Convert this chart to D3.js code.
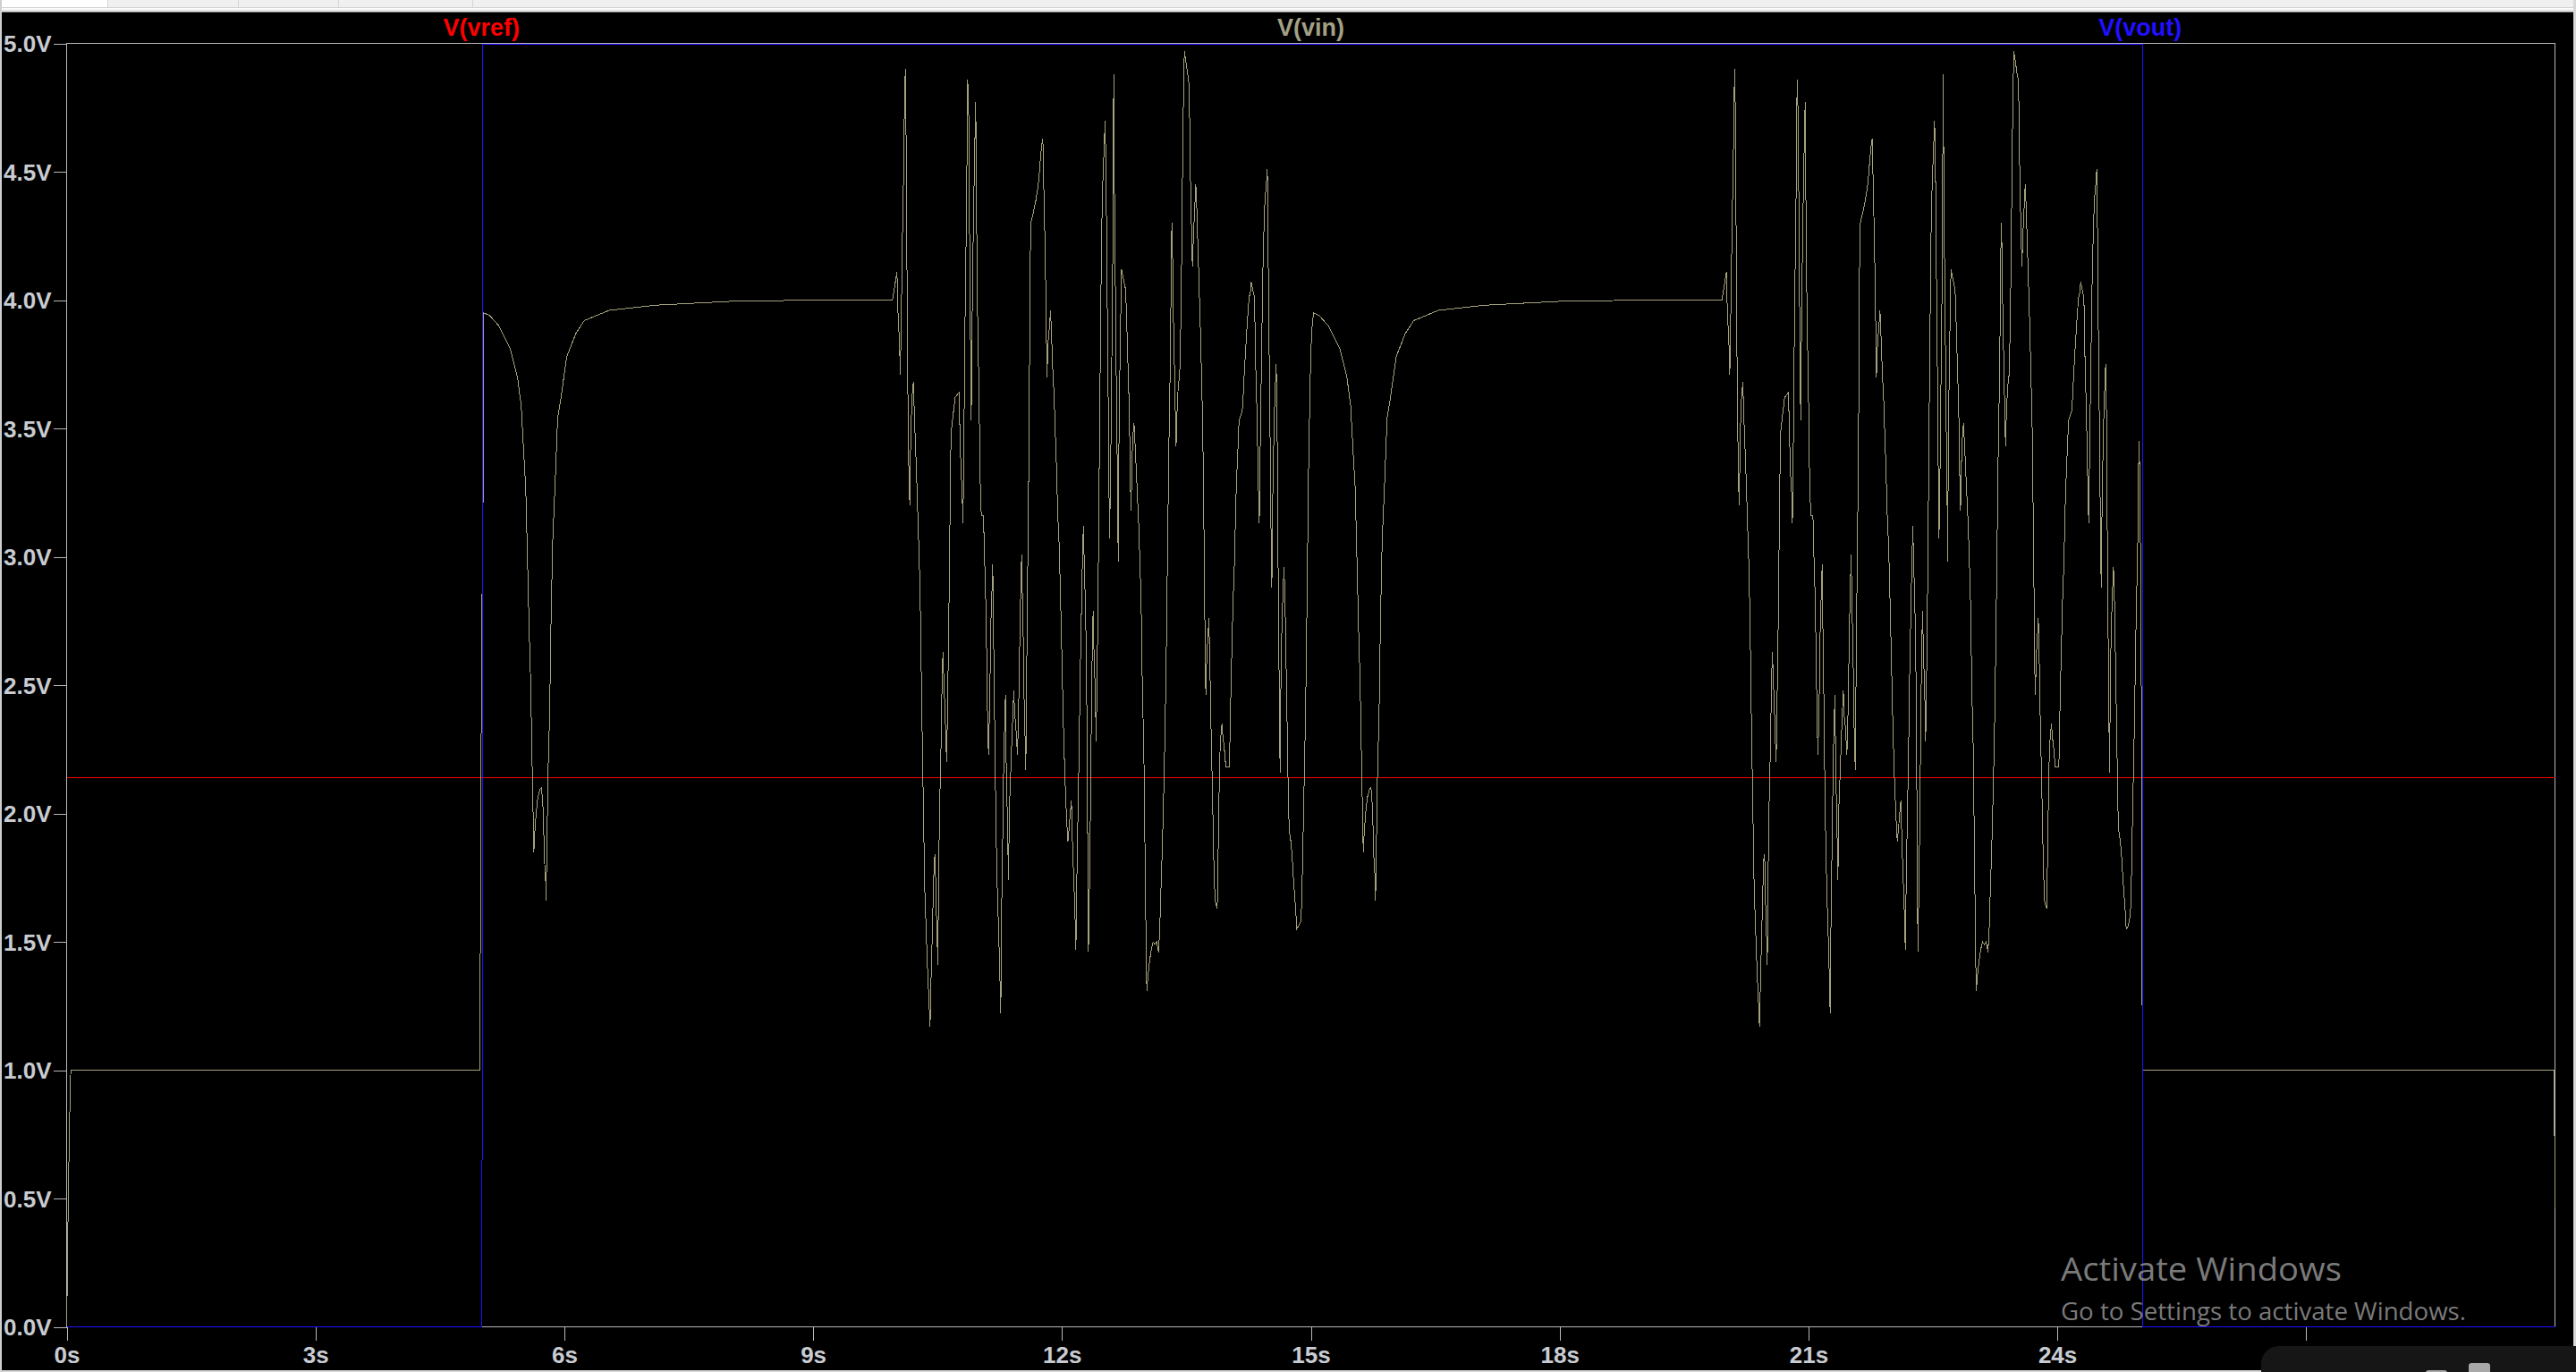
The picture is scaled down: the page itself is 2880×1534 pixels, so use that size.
<!DOCTYPE html>
<html><head><meta charset="utf-8">
<script src="https://cdn.jsdelivr.net/npm/d3@7"></script>
<style>
html,body{margin:0;padding:0;background:#000;overflow:hidden;}
svg{display:block;}
</style></head><body>
<svg id="chart" width="2880" height="1534"></svg>
<script>
// ---------- data ----------
const traceNames = ["V(vref)", "V(vin)", "V(vout)"];
const xTickValues = [0, 3, 6, 9, 12, 15, 18, 21, 24, 27];
const xTickLabels = ["0s", "3s", "6s", "9s", "12s", "15s", "18s", "21s", "24s", "27s"];
const yTickValues = [0, 0.5, 1, 1.5, 2, 2.5, 3, 3.5, 4, 4.5, 5];
const yTickLabels = ["0.0V", "0.5V", "1.0V", "1.5V", "2.0V", "2.5V", "3.0V", "3.5V", "4.0V", "4.5V", "5.0V"];

const vrefT = [0, 30];
const vrefV = [2.14, 2.14];

const voutT = [0, 5.008, 5.017, 25.028, 25.033, 30];
const voutV = [0, 0, 4.996, 4.996, 0, 0];

// V(vin): start-up and first step
const vinStartT = [0, 0.005, 0.012, 0.02, 0.035, 0.05, 4.985, 4.99, 5.0, 5.011, 5.028, 5.03];
const vinStartV = [0, 0.10, 0.30, 0.50, 0.80, 1.00, 1.00, 1.84, 2.40, 2.94, 3.45, 3.95];

// dip and recovery after each step (first cycle times)
const vinRecoveryT = [5.1, 5.21, 5.35, 5.435, 5.48, 5.51, 5.535, 5.554, 5.575, 5.594, 5.615, 5.633, 5.643, 5.658, 5.68, 5.708, 5.726, 5.744, 5.762, 5.773, 5.78, 5.805, 5.823, 5.84, 5.86, 5.89, 5.92, 5.96, 6.03, 6.14, 6.24, 6.54, 7.1, 8.0, 9.0, 9.957];
const vinRecoveryV = [3.94, 3.90, 3.81, 3.70, 3.59, 3.41, 3.27, 3.02, 2.73, 2.52, 2.15, 1.85, 1.92, 1.99, 2.06, 2.095, 2.10, 2.02, 1.81, 1.76, 1.66, 2.17, 2.38, 2.75, 3.06, 3.29, 3.54, 3.62, 3.78, 3.87, 3.92, 3.96, 3.98, 3.995, 4.0, 4.0];

// burst section (first cycle times)
const vinBurstT = [10.011,10.022,10.040,10.051,10.058,10.069,10.079,10.094,10.101,10.112,10.119,10.126,10.141,10.155,10.166,10.177,10.194,10.209,10.223,10.238,10.252,10.266,10.281,10.295,10.309,10.327,10.345,10.363,10.381,10.399,10.410,10.424,10.435,10.446,10.460,10.471,10.482,10.493,10.504,10.514,10.525,10.543,10.554,10.565,10.575,10.590,10.604,10.611,10.619,10.633,10.647,10.662,10.687,10.712,10.734,10.759,10.770,10.784,10.795,10.806,10.813,10.824,10.834,10.849,10.863,10.877,10.885,10.895,10.906,10.921,10.935,10.949,10.960,10.971,10.982,11.000,11.014,11.028,11.054,11.064,11.079,11.093,11.104,11.115,11.129,11.143,11.158,11.165,11.172,11.183,11.194,11.208,11.222,11.237,11.248,11.262,11.273,11.284,11.298,11.309,11.319,11.330,11.341,11.355,11.366,11.381,11.395,11.409,11.420,11.431,11.442,11.453,11.463,11.474,11.488,11.499,11.514,11.528,11.539,11.546,11.557,11.564,11.571,11.582,11.596,11.607,11.614,11.625,11.639,11.661,11.686,11.711,11.726,11.740,11.755,11.769,11.780,11.794,11.805,11.819,11.834,11.848,11.862,11.877,11.891,11.905,11.920,11.934,11.949,11.967,11.981,11.999,12.017,12.035,12.053,12.071,12.085,12.100,12.114,12.128,12.143,12.157,12.168,12.179,12.193,12.207,12.218,12.233,12.244,12.258,12.272,12.286,12.297,12.308,12.319,12.333,12.344,12.355,12.365,12.376,12.387,12.401,12.412,12.423,12.434,12.445,12.455,12.466,12.477,12.491,12.509,12.520,12.531,12.542,12.556,12.567,12.574,12.589,12.599,12.610,12.624,12.635,12.646,12.660,12.671,12.678,12.689,12.703,12.718,12.743,12.768,12.783,12.797,12.811,12.826,12.833,12.847,12.858,12.869,12.883,12.898,12.912,12.926,12.941,12.955,12.970,12.987,13.005,13.016,13.023,13.041,13.059,13.077,13.099,13.120,13.142,13.164,13.178,13.192,13.210,13.228,13.243,13.257,13.268,13.279,13.289,13.300,13.311,13.318,13.325,13.333,13.343,13.358,13.369,13.376,13.386,13.401,13.419,13.433,13.444,13.455,13.466,13.476,13.494,13.516,13.527,13.537,13.545,13.555,13.566,13.573,13.588,13.602,13.613,13.624,13.638,13.652,13.667,13.681,13.696,13.706,13.717,13.728,13.735,13.746,13.760,13.771,13.782,13.793,13.803,13.818,13.832,13.846,13.861,13.872,13.882,13.893,13.904,13.915,13.929,13.940,13.958,13.976,14.019,14.030,14.041,14.051,14.062,14.077,14.087,14.098,14.113,14.127,14.134,14.156,14.174,14.184,14.199,14.213,14.228,14.242,14.256,14.271,14.282,14.300,14.321,14.335,14.350,14.361,14.371,14.379,14.389,14.400,14.411,14.422,14.436,14.447,14.461,14.476,14.483,14.490,14.501,14.512,14.522,14.530,14.540,14.551,14.562,14.573,14.583,14.594,14.601,14.612,14.623,14.630,14.641,14.652,14.666,14.677,14.688,14.698,14.709,14.720,14.731,14.742,14.760,14.774,14.788,14.799,14.810,14.821,14.831];
const vinBurstV = [4.11,3.96,3.84,3.71,3.84,4.07,4.30,4.54,4.77,4.90,4.72,4.37,3.66,3.30,3.20,3.48,3.63,3.68,3.53,3.40,3.27,3.12,2.97,2.76,2.43,2.07,1.71,1.54,1.38,1.25,1.17,1.38,1.51,1.66,1.82,1.84,1.66,1.54,1.41,1.77,2.02,2.28,2.51,2.63,2.53,2.40,2.25,2.20,2.38,2.67,3.07,3.48,3.55,3.62,3.63,3.64,3.48,3.32,3.27,3.13,3.27,3.66,3.99,4.35,4.86,4.70,4.30,3.91,3.53,4.04,4.35,4.60,4.77,4.30,3.96,3.63,3.30,3.16,3.16,3.02,2.86,2.61,2.35,2.23,2.43,2.74,2.89,2.97,2.76,2.51,2.20,1.89,1.69,1.54,1.41,1.22,1.64,1.87,2.20,2.35,2.46,2.15,2.00,1.74,2.02,2.15,2.28,2.40,2.48,2.38,2.35,2.29,2.23,2.35,2.61,2.81,3.01,2.76,2.61,2.38,2.28,2.17,2.43,2.81,3.22,3.63,4.09,4.30,4.32,4.35,4.39,4.44,4.49,4.55,4.60,4.63,4.45,4.24,4.04,3.70,3.84,3.89,3.96,3.84,3.71,3.63,3.48,3.35,3.17,3.04,2.86,2.61,2.35,2.15,2.00,1.89,1.94,2.00,2.05,1.87,1.74,1.61,1.47,1.74,2.00,2.25,2.51,2.76,2.94,3.12,2.94,2.76,2.51,2.00,1.46,1.74,2.02,2.38,2.63,2.79,2.61,2.48,2.28,2.51,2.81,3.17,3.53,3.89,4.24,4.45,4.60,4.70,4.51,4.12,3.68,3.27,3.07,3.40,3.73,4.04,4.88,4.32,3.99,3.53,3.27,2.98,3.53,3.84,4.12,4.08,4.04,3.89,3.73,3.58,3.27,3.18,3.40,3.48,3.52,3.43,3.32,3.22,3.12,2.97,2.81,2.48,2.25,1.74,1.43,1.31,1.38,1.43,1.47,1.50,1.49,1.50,1.46,1.54,1.69,1.87,2.10,2.33,2.61,2.89,3.17,3.43,3.63,3.91,4.17,4.30,4.19,3.94,3.71,3.53,3.43,3.55,3.66,3.71,3.91,4.19,4.55,4.81,4.97,4.93,4.88,4.86,4.76,4.55,4.37,4.22,4.13,4.27,4.37,4.45,4.37,4.22,4.07,3.91,3.73,3.53,3.27,2.94,2.56,2.46,2.61,2.69,2.76,2.61,2.40,2.25,2.02,1.79,1.66,1.64,1.63,1.82,2.05,2.23,2.30,2.35,2.30,2.25,2.18,2.18,2.38,2.54,2.67,2.82,2.95,3.08,3.23,3.36,3.46,3.53,3.55,3.57,3.62,3.72,3.80,3.88,3.95,4.01,4.03,4.07,4.04,4.01,3.75,3.57,3.39,3.23,3.13,3.39,3.64,3.88,4.11,4.29,4.39,4.44,4.51,4.34,4.03,3.72,3.39,3.05,2.88,3.21,3.41,3.57,3.67,3.75,3.54,3.18,2.74,2.36,2.16,2.56,2.74,2.87,2.96,2.85,2.67,2.46,2.25,2.02,1.93,1.89,1.84,1.76,1.71,1.66,1.61,1.55];

// return to the step level at the end of the first burst
const vinReturnT = [14.849, 14.882, 14.893, 14.903, 14.914, 14.925, 14.936, 14.946, 14.954, 14.964, 14.975, 14.986, 14.997, 15.011, 15.026, 15.036];
const vinReturnV = [1.56, 1.58, 1.69, 1.84, 2.02, 2.20, 2.38, 2.61, 2.82, 3.10, 3.39, 3.57, 3.75, 3.88, 3.93, 3.95];

// second cycle starts 10 s after the first
const cycleOffsets = [0, 10];

// end of the second burst and the tail
const vinTailT = [24.853, 24.868, 24.878, 24.889, 24.900, 24.911, 24.921, 24.932, 24.943, 24.954, 24.965, 24.972, 24.979, 24.986, 24.992, 24.999, 25.005, 25.011, 25.016, 25.020, 25.03, 29.99, 30];
const vinTailV = [1.56, 1.58, 1.60, 1.66, 1.87, 2.05, 2.20, 2.38, 2.63, 2.82, 2.97, 3.10, 3.34, 3.45, 3.36, 3.18, 2.92, 2.67, 2.15, 1.39, 1.0, 1.0, 0.46];

const xDomain = [0, 30];
const yDomain = [0, 5];

// ---------- drawing ----------
const W = 2880, H = 1534;
const plot = {left: 74.5, right: 2856.5, top: 48.5, bottom: 1483.5};
const colors = {vref: "#ff0000", vin: "#a5a27c", vout: "#2010ff", frame: "#b8b8b8", tickText: "#c8ccd2"};
const font = "'Liberation Sans', Arial, sans-serif";

const svg = d3.select("#chart");
svg.append("rect").attr("width", W).attr("height", H).attr("fill", "#000");

// window chrome
svg.append("rect").attr("x", 0).attr("y", 0).attr("width", W).attr("height", 13.5).attr("fill", "#f0f0f0");
svg.append("rect").attr("x", 0).attr("y", 0).attr("width", 120).attr("height", 8).attr("fill", "#ffffff");
[120, 266, 378, 528].forEach(px => svg.append("rect").attr("x", px).attr("y", 0).attr("width", 1).attr("height", 8).attr("fill", "#d6d6d6"));
svg.append("rect").attr("x", 0).attr("y", 8).attr("width", W).attr("height", 1).attr("fill", "#d2d2d2");
svg.append("rect").attr("x", 0).attr("y", 9).attr("width", W).attr("height", 2).attr("fill", "#fafafa");
svg.append("rect").attr("x", 0).attr("y", 11).attr("width", W).attr("height", 1).attr("fill", "#dcdcdc");
svg.append("rect").attr("x", 0).attr("y", 0).attr("width", 2).attr("height", H).attr("fill", "#cfcfcf");
svg.append("rect").attr("x", 2877).attr("y", 0).attr("width", 3).attr("height", H).attr("fill", "#d8d8d8");
svg.append("rect").attr("x", 0).attr("y", 1532).attr("width", W).attr("height", 2).attr("fill", "#d8d8d8");

const x = d3.scaleLinear().domain(xDomain).range([plot.left, plot.right]);
const y = d3.scaleLinear().domain(yDomain).range([plot.bottom, plot.top]);

// axes
const xAxis = d3.axisBottom(x).tickValues(xTickValues)
  .tickFormat((d, i) => xTickLabels[i]).tickSize(15).tickPadding(7).tickSizeOuter(0);
const yAxis = d3.axisLeft(y).tickValues(yTickValues)
  .tickFormat((d, i) => yTickLabels[i]).tickSize(15).tickPadding(2).tickSizeOuter(0);

function styleAxis(g) {
  g.select(".domain").remove();
  g.attr("font-family", font).attr("font-size", 26).attr("font-weight", "bold");
  g.selectAll(".tick line").attr("stroke", colors.frame).attr("shape-rendering", "crispEdges");
  g.selectAll(".tick text").attr("fill", colors.tickText);
}
svg.append("g").attr("transform", `translate(0,${plot.bottom})`).call(xAxis).call(styleAxis);
svg.append("g").attr("transform", `translate(${plot.left},0)`).call(yAxis).call(styleAxis)
  .selectAll(".tick text").attr("dy", "0.36em");

// frame
svg.append("rect").attr("x", plot.left).attr("y", plot.top)
  .attr("width", plot.right - plot.left).attr("height", plot.bottom - plot.top)
  .attr("fill", "none").attr("stroke", colors.frame).attr("stroke-width", 1)
  .attr("shape-rendering", "crispEdges");

// series
function zipSeries(ts, vs, offset) {
  return ts.map((t, i) => ({t: t + (offset || 0), v: vs[i]}));
}
const vrefSeries = zipSeries(vrefT, vrefV);
const voutSeries = zipSeries(voutT, voutV);
const vinSeries = [].concat(
  zipSeries(vinStartT, vinStartV),
  zipSeries(vinRecoveryT, vinRecoveryV, cycleOffsets[0]),
  zipSeries(vinBurstT, vinBurstV, cycleOffsets[0]),
  zipSeries(vinReturnT, vinReturnV),
  zipSeries(vinRecoveryT, vinRecoveryV, cycleOffsets[1]),
  zipSeries(vinBurstT, vinBurstV, cycleOffsets[1]),
  zipSeries(vinTailT, vinTailV)
);

const line = d3.line().x(d => x(d.t)).y(d => y(d.v));
const traces = svg.append("g").attr("fill", "none").attr("stroke-width", 1).attr("shape-rendering", "crispEdges");
traces.append("path").datum(vrefSeries).attr("d", line).attr("stroke", colors.vref);
traces.append("path").datum(vinSeries).attr("d", line).attr("stroke", colors.vin);
traces.append("path").datum(voutSeries).attr("d", line).attr("stroke", colors.vout);

// trace labels
const labelColors = [colors.vref, "#a3a184", colors.vout];
traceNames.forEach((name, i) => {
  svg.append("text")
    .attr("x", x(xDomain[1] * (2 * i + 1) / 6)).attr("y", 39.5)
    .attr("text-anchor", "middle").attr("font-family", font)
    .attr("font-size", 27).attr("font-weight", "bold")
    .attr("fill", labelColors[i]).text(name);
});

// OS watermark
svg.append("text").attr("x", 2304).attr("y", 1431.5)
  .attr("font-family", "'Open Sans', 'Noto Sans', sans-serif").attr("font-size", 36)
  .attr("fill", "#7a7a7a").attr("textLength", 314).attr("lengthAdjust", "spacingAndGlyphs")
  .text("Activate Windows");
svg.append("text").attr("x", 2304).attr("y", 1475.5)
  .attr("font-family", "'Open Sans', 'Noto Sans', sans-serif").attr("font-size", 28)
  .attr("fill", "#7a7a7a").attr("textLength", 453).attr("lengthAdjust", "spacingAndGlyphs")
  .text("Go to Settings to activate Windows.");

// taskbar overlay at bottom right
svg.append("rect").attr("x", 2528).attr("y", 1505).attr("width", 400).attr("height", 80)
  .attr("rx", 20).attr("fill", "#161616");
svg.append("rect").attr("x", 2712).attr("y", 1532).attr("width", 24).attr("height", 12)
  .attr("rx", 3).attr("fill", "#a8a8a8");
svg.append("rect").attr("x", 2760).attr("y", 1524).attr("width", 24).attr("height", 20)
  .attr("rx", 3).attr("fill", "#a8a8a8");
</script>
</body></html>
